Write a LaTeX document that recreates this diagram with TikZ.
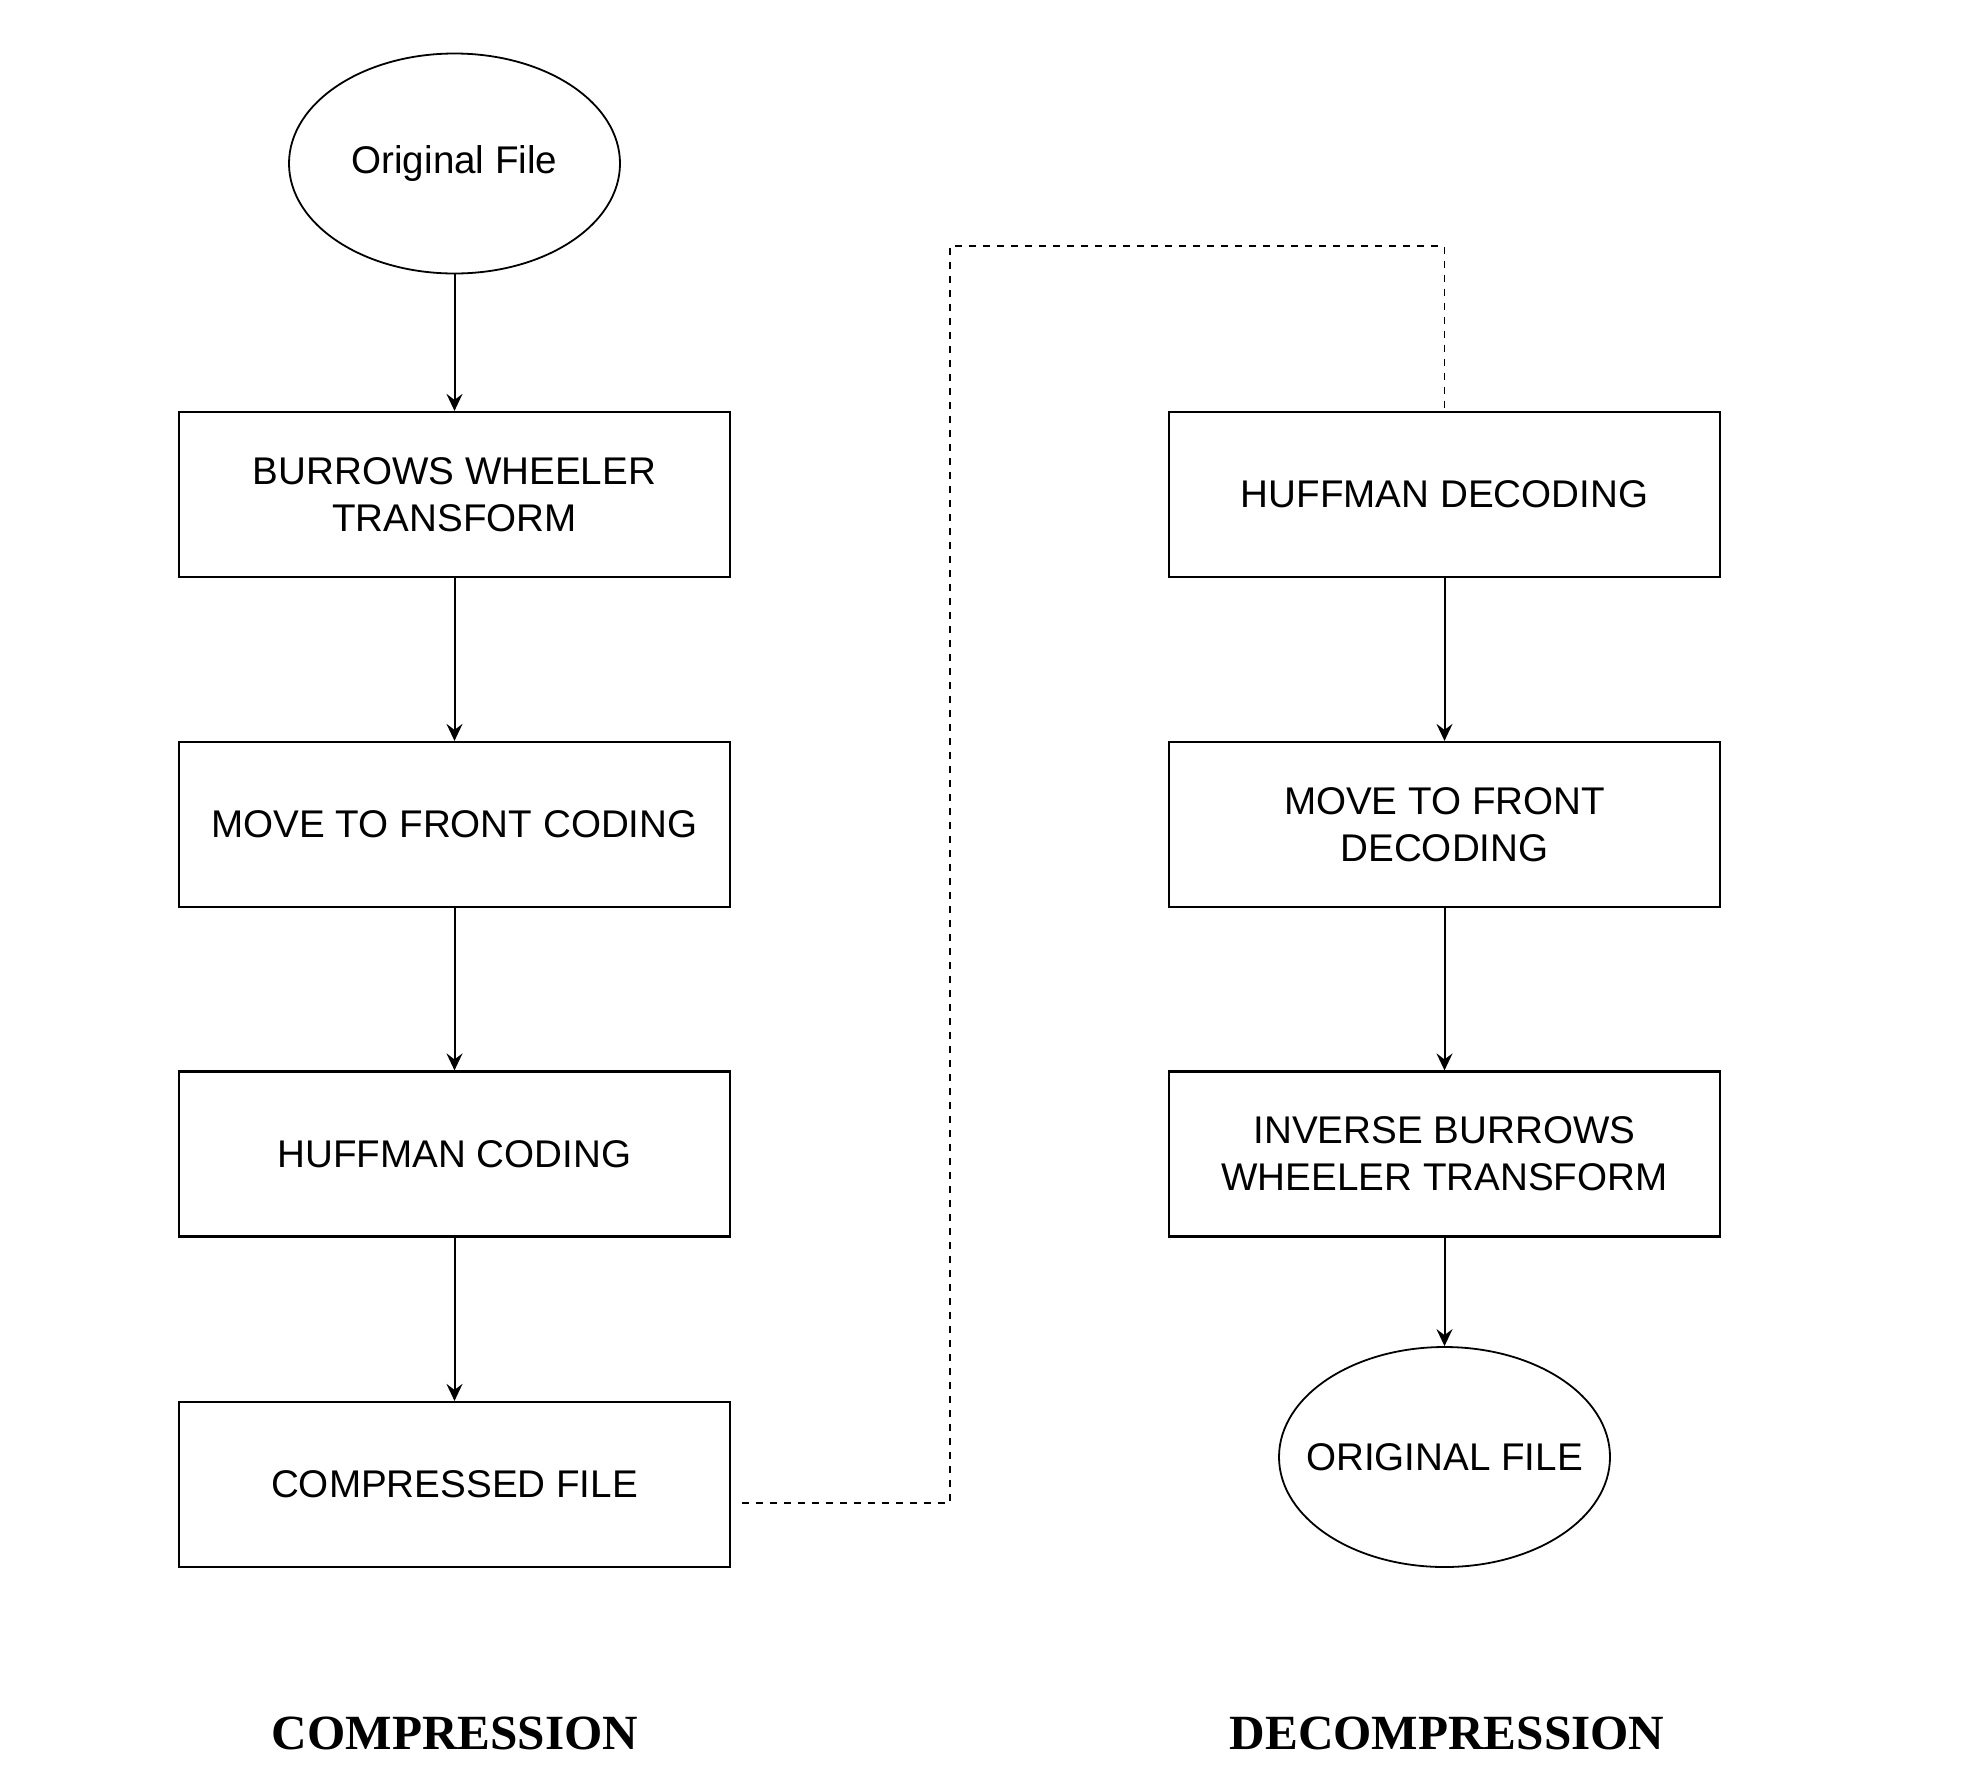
\documentclass[tikz,border=0pt]{standalone}
\usepackage{fontspec}
\setmainfont{Liberation Sans}
\newfontfamily\labelfont{Liberation Serif}
\usetikzlibrary{shapes.geometric,arrows.meta}
\begin{document}
\begin{tikzpicture}[x=0.5pt,y=-0.5pt,
  procbox/.style={draw, line width=1.1pt, minimum width=275.5pt, minimum height=82.5pt, inner sep=0pt, align=center, font=\fontsize{19.3}{23.4}\selectfont},
  termnode/.style={draw, ellipse, line width=0.9pt, minimum width=165.5pt, minimum height=110pt, inner sep=0pt, font=\fontsize{19.3}{23.4}\selectfont},
  flow/.style={-{Stealth[length=8.5pt,width=8pt,inset=3pt]}, line width=1pt},
  link/.style={dash pattern=on 3.5pt off 3.5pt, line width=0.9pt},
  title/.style={font=\labelfont\bfseries\fontsize{24.6}{28}\selectfont}]
\useasboundingbox (0,0) rectangle (1980,1778);
\node[termnode] (o1) at (454.5,163.5) {\makebox[0pt][c]{Original File}};
\node[procbox] (c1) at (454.5,494.5) {BURROWS WHEELER\\TRANSFORM};
\node[procbox] (c2) at (454.5,824.5) {MOVE TO FRONT CODING};
\node[procbox] (c3) at (454.5,1154) {HUFFMAN CODING};
\node[procbox] (c4) at (454.5,1484.5) {COMPRESSED FILE};
\node[procbox] (d1) at (1444.5,494.5) {HUFFMAN DECODING};
\node[procbox] (d2) at (1444.5,824.5) {MOVE TO FRONT\\DECODING};
\node[procbox] (d3) at (1444.5,1154) {INVERSE BURROWS\\WHEELER TRANSFORM};
\node[termnode] (o2) at (1444.5,1457) {\makebox[0pt][c]{ORIGINAL FILE}};
\node[title] (tc) at (455,1733) {COMPRESSION};
\node[title] (td) at (1447,1733) {DECOMPRESSION};
\draw[flow] (o1) -- (c1);
\draw[flow] (c1) -- (c2);
\draw[flow] (c2) -- (c3);
\draw[flow] (c3) -- (c4);
\draw[flow] (d1) -- (d2);
\draw[flow] (d2) -- (d3);
\draw[flow] (d3) -- (o2);
\coordinate (ds) at (742,1503);
\coordinate (k1) at (950,1503);
\coordinate (k2) at (950,246);
\coordinate (k3) at (1444.5,246);
\draw[link] (ds) -- (k1) -- (k2) -- (k3) -- (d1.north);
\end{tikzpicture}
\end{document}
